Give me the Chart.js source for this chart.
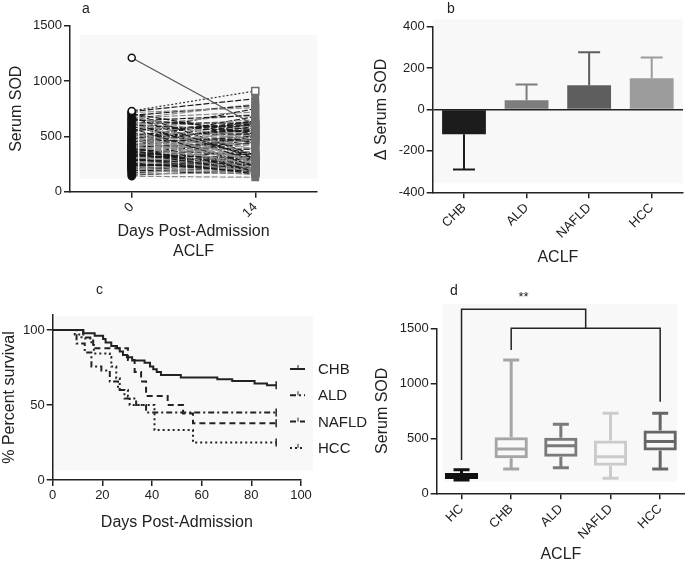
<!DOCTYPE html>
<html>
<head>
<meta charset="utf-8">
<script src="https://cdn.jsdelivr.net/npm/chart.js"></script>
<style>
body { margin: 0; background: #fff; }
#wrap { position: relative; width: 685px; height: 566px; overflow: hidden; font-family: "Liberation Sans", Arial, sans-serif; }
canvas { position: absolute; }
.tag { position: absolute; font-size: 14px; line-height: 16px; color: #222; }
</style>
</head>
<body>
<div id="wrap">
  <canvas id="chartA" width="340" height="280" style="left:0;top:0"></canvas>
  <canvas id="chartB" width="345" height="280" style="left:340px;top:0"></canvas>
  <canvas id="chartC" width="375" height="286" style="left:0;top:280px"></canvas>
  <canvas id="chartD" width="345" height="286" style="left:340px;top:280px"></canvas>
  <div class="tag" style="left:82px;top:0">a</div>
  <div class="tag" style="left:447px;top:0">b</div>
  <div class="tag" style="left:96px;top:281px">c</div>
  <div class="tag" style="left:450px;top:282px">d</div>
</div>
<script>
// panel a - paired serum SOD, admission vs day 14
const dayLabels = ['0', '14'];
const sodDay0 = [1210, 730, 725, 715, 705, 700, 690, 680, 672, 665, 655, 648, 640, 630, 622, 615, 605, 598, 590, 580,
  572, 565, 555, 548, 540, 530, 522, 515, 505, 498, 490, 482, 475, 468, 460, 452, 445, 438, 430, 424,
  418, 410, 404, 398, 392, 386, 380, 374, 368, 362, 356, 350, 345, 340, 334, 328, 322, 316, 310, 305,
  300, 295, 290, 285, 280, 275, 270, 264, 258, 252, 246, 240, 234, 228, 222, 215, 208, 200, 190, 180,
  170, 160, 150, 140,
  710, 660, 620, 585, 560, 535, 512, 495, 478, 462, 448, 434, 421, 408, 396, 384, 372, 360, 348, 337,
  326, 314, 303, 292, 282, 272, 262, 252, 243, 234, 226, 218, 211, 204, 196, 188, 300, 320, 340, 360];
const sodDay14 = [600, 910, 840, 760, 520, 240, 780, 450, 300, 720, 560, 250, 690, 380, 620, 210, 540, 700, 330, 650,
  230, 480, 600, 270, 750, 190, 520, 420, 640, 280, 560, 200, 680, 350, 470, 240, 590, 300, 500, 170,
  620, 260, 440, 560, 200, 520, 330, 610, 230, 470, 280, 540, 190, 400, 250, 600, 310, 220, 500, 270,
  160, 430, 240, 560, 300, 200, 480, 260, 180, 350, 220, 520, 270, 200, 300, 160, 240, 210, 280, 190,
  230, 170, 200, 130,
  330, 790, 280, 520, 610, 230, 450, 180, 560, 300, 640, 210, 380, 530, 250, 470, 200, 580, 290, 230,
  510, 190, 360, 250, 450, 170, 320, 400, 210, 260, 350, 180, 240, 300, 160, 220, 180, 210, 240, 170];

// panel b - change in serum SOD by aetiology
const groupsB = ['CHB', 'ALD', 'NAFLD', 'HCC'];
const deltaSod = [-120, 45, 117, 151];
const deltaSd = [170, 76, 160, 100];
const barColors = ['#1c1c1c', '#7d7d7d', '#5e5e5e', '#9c9c9c'];

// panel c - survival curves (event day, % surviving after event)
const chbDays = [0, 12.3, 16.9, 20.3, 21.3, 23.6, 25.9, 27, 28.3, 29.9, 32, 37, 39.2, 40.5, 41.9, 43.6, 51.6, 66.3, 72.3, 81.3, 86.3, 90];
const chbSurv = [100, 97.8, 96.2, 94, 91.6, 89.3, 87.8, 85.6, 83.3, 81.8, 79.6, 78.2, 75.6, 73.8, 72, 70, 68.4, 67.1, 66, 64.4, 63.1, 63.1];
const aldDays = [0, 9.6, 12.9, 15.6, 19.6, 23, 26.3, 28.9, 33.6, 37.6, 90];
const aldSurv = [100, 91, 85, 75.6, 73, 65.6, 60, 54.4, 50, 45, 45];
const nafldDays = [0, 12.3, 16.3, 30.3, 33, 35.6, 37.6, 46.3, 52.5, 56.5, 90];
const nafldSurv = [100, 95, 87.8, 80, 72, 65.6, 56, 50, 44.4, 37.8, 37.8];
const hccDays = [0, 8.9, 11.6, 15.6, 16.6, 23, 23.6, 25.6, 27, 30.3, 31, 41, 56.5, 90];
const hccSurv = [100, 97, 94.4, 90, 84.4, 82, 75.6, 67.8, 60, 55.6, 50, 33.3, 25, 25];
const kmNames = ['CHB', 'ALD', 'NAFLD', 'HCC'];

// panel d - box plots of serum SOD
const groupsD = ['HC', 'CHB', 'ALD', 'NAFLD', 'HCC'];
const boxMin = [120, 221, 233, 136, 221];
const boxQ1 = [130, 318, 333, 251, 388];
const boxMed = [158, 403, 433, 333, 470];
const boxQ3 = [185, 509, 506, 479, 570];
const boxMax = [215, 1212, 627, 727, 727];
const boxColors = ['#111111', '#a5a5a5', '#7a7a7a', '#cbcbcb', '#666666'];
// significance bracket heights (SOD units)
const bracketTop = 1673;
const bracketMid = 1500;
const bracketLegs = [303, 1303, 833];

Chart.defaults.font.family = '"Liberation Sans", Arial, sans-serif';
Chart.defaults.color = '#222';

const INK = '#222';
const plainNumber = v => String(v);

// light grey panel behind each plot, offsets from the chart area
function panelBg(l, t, r, b) {
    return {
        id: 'panelBg',
        beforeDraw(chart) {
            const a = chart.chartArea;
            const ctx = chart.ctx;
            ctx.save();
            ctx.fillStyle = '#f8f8f8';
            ctx.fillRect(a.left + l, a.top + t, (a.right + r) - (a.left + l), (a.bottom + b) - (a.top + t));
            ctx.restore();
        }
    };
}

function axisX(height, extra) {
    return Object.assign({
        grid: { offset: false, drawOnChartArea: false, tickLength: 6, color: INK, lineWidth: 1.5 },
        border: { color: INK, width: 1.5 },
        ticks: { font: { size: 13 }, color: INK, padding: 2 },
        afterFit: s => { s.height = height; }
    }, extra);
}

function axisY(width, title, padTop, extra) {
    return Object.assign({
        grid: { drawOnChartArea: false, tickLength: 6, color: INK, lineWidth: 1.5 },
        border: { color: INK, width: 1.5 },
        ticks: { font: { size: 13 }, color: INK, padding: 2 },
        title: { display: true, text: title, font: { size: 16 }, color: INK, padding: { top: padTop, bottom: 0 } },
        afterFit: s => { s.width = width; }
    }, extra);
}

const baseOptions = {
    animation: false,
    responsive: false,
    events: []
};

// ---------- panel a ----------
const lowestStart = sodDay0.indexOf(Math.min(...sodDay0));
const pairedDatasets = sodDay0.map((v0, i) => {
    let lineColor = i % 2 ? '#8c8c8c' : '#1a1a1a';
    let dash = [6, 2];
    if (i === 0) { lineColor = '#555'; dash = []; }
    if (i === 1) { lineColor = '#333'; dash = [2, 2]; }
    const openStart = i === 0 || i === 1 || i === lowestStart;
    return {
        data: [v0, sodDay14[i]],
        borderColor: lineColor,
        borderWidth: 1.2,
        borderDash: dash,
        pointStyle: ['circle', 'rect'],
        pointRadius: [3.5, i === 1 ? 5 : 4.5],
        pointBorderWidth: 1.5,
        pointBorderColor: ['#111', '#6e6e6e'],
        pointBackgroundColor: [openStart ? '#fff' : '#111', i === 1 ? '#fff' : '#6e6e6e']
    };
});

new Chart(document.getElementById('chartA'), {
    type: 'line',
    data: { labels: dayLabels, datasets: pairedDatasets },
    options: Object.assign({}, baseOptions, {
        layout: { padding: { top: 25.7, right: 23, left: 0, bottom: 0 } },
        plugins: { legend: { display: false }, tooltip: { enabled: false } },
        scales: {
            x: axisX(88.3, {
                type: 'category',
                offset: true,
                ticks: { font: { size: 13 }, color: INK, padding: 2, minRotation: 45, maxRotation: 45 },
                title: { display: true, text: ['Days Post-Admission', 'ACLF'], font: { size: 16 }, color: INK, padding: { top: 0, bottom: 19.2 } }
            }),
            y: axisY(70, 'Serum SOD', 7.1, {
                min: 0, max: 1500,
                ticks: { stepSize: 500, font: { size: 13 }, color: INK, padding: 2, callback: plainNumber }
            })
        }
    }),
    plugins: [panelBg(10, 9.3, 0, -12.7)]
});

// ---------- panel b ----------
const errorBars = {
    id: 'errorBars',
    afterDatasetsDraw(chart) {
        const ctx = chart.ctx;
        const y = chart.scales.y;
        chart.getDatasetMeta(0).data.forEach((bar, i) => {
            const v = deltaSod[i];
            const end = v < 0 ? v - deltaSd[i] : v + deltaSd[i];
            const y0 = y.getPixelForValue(v);
            const y1 = y.getPixelForValue(end);
            ctx.save();
            ctx.strokeStyle = barColors[i];
            ctx.lineWidth = 2;
            ctx.beginPath();
            ctx.moveTo(bar.x, y0);
            ctx.lineTo(bar.x, y1);
            ctx.moveTo(bar.x - 11, y1);
            ctx.lineTo(bar.x + 11, y1);
            ctx.stroke();
            ctx.restore();
        });
    }
};

new Chart(document.getElementById('chartB'), {
    type: 'bar',
    data: {
        labels: groupsB,
        datasets: [{
            data: deltaSod,
            backgroundColor: barColors,
            borderWidth: 0,
            barPercentage: 0.7,
            categoryPercentage: 1
        }]
    },
    options: Object.assign({}, baseOptions, {
        layout: { padding: { top: 26.7, right: 2, left: 0, bottom: 0 } },
        plugins: { legend: { display: false }, tooltip: { enabled: false } },
        scales: {
            x: axisX(87.7, {
                ticks: { font: { size: 13 }, color: INK, padding: 2, minRotation: 45, maxRotation: 45 },
                title: { display: true, text: 'ACLF', font: { size: 16 }, color: INK, padding: { top: 0, bottom: 12.4 } }
            }),
            y: axisY(92.7, '\u0394 Serum SOD', 32.1, {
                min: -400, max: 400,
                ticks: { stepSize: 200, font: { size: 13 }, color: INK, padding: 2, callback: plainNumber },
                grid: {
                    drawOnChartArea: true, tickLength: 6, lineWidth: 1.5, tickColor: INK,
                    color: c => (c.tick && c.tick.value === 0 ? INK : 'rgba(0,0,0,0)')
                }
            })
        }
    }),
    plugins: [panelBg(0, -7.4, 0, -9), errorBars]
});

// ---------- panel c ----------
const kmSets = [
    { days: chbDays, surv: chbSurv, dash: [], width: 2 },
    { days: aldDays, surv: aldSurv, dash: [6, 3, 2, 3], width: 2 },
    { days: nafldDays, surv: nafldSurv, dash: [6, 4], width: 2 },
    { days: hccDays, surv: hccSurv, dash: [2, 3], width: 2 }
];

const kmLegend = {
    id: 'kmLegend',
    afterDraw(chart) {
        const ctx = chart.ctx;
        const a = chart.chartArea;
        ctx.save();
        ctx.font = '15px "Liberation Sans", Arial, sans-serif';
        ctx.textBaseline = 'middle';
        kmSets.forEach((s, i) => {
            const yy = a.top + 54 + i * 26.3;
            ctx.strokeStyle = INK;
            ctx.lineWidth = 2;
            ctx.setLineDash(s.dash);
            ctx.beginPath();
            ctx.moveTo(a.right - 11, yy);
            ctx.lineTo(a.right + 4, yy);
            ctx.stroke();
            ctx.setLineDash([]);
            ctx.lineWidth = 1;
            ctx.beginPath();
            ctx.moveTo(a.right - 3, yy);
            ctx.lineTo(a.right - 3, yy - 4);
            ctx.stroke();
            ctx.fillStyle = INK;
            ctx.fillText(kmNames[i], a.right + 17, yy + 1);
        });
        ctx.restore();
    }
};

new Chart(document.getElementById('chartC'), {
    type: 'line',
    data: {
        datasets: kmSets.map((s, i) => ({
            label: kmNames[i],
            data: s.days.map((d, j) => ({ x: d, y: s.surv[j] })),
            stepped: true,
            borderColor: INK,
            borderWidth: s.width,
            borderDash: s.dash,
            pointStyle: 'line',
            rotation: 90,
            pointBorderColor: INK,
            pointBorderWidth: 1.5,
            pointRadius: s.days.map((d, j) => (j === s.days.length - 1 ? 4 : 0))
        }))
    },
    options: Object.assign({}, baseOptions, {
        layout: { padding: { top: 35, right: 74, left: 0, bottom: 0 } },
        plugins: { legend: { display: false }, tooltip: { enabled: false } },
        scales: {
            x: axisX(86, {
                type: 'linear', min: 0, max: 100,
                ticks: { stepSize: 20, font: { size: 13 }, color: INK, padding: 2, maxRotation: 0, callback: plainNumber },
                title: { display: true, text: 'Days Post-Admission', font: { size: 16 }, color: INK, padding: { top: 0, bottom: 33.4 } }
            }),
            y: axisY(52.7, '% Percent survival', 0, {
                min: 0, max: 110,
                ticks: { stepSize: 50, includeBounds: false, font: { size: 13 }, color: INK, padding: 2, callback: plainNumber }
            })
        }
    }),
    plugins: [panelBg(0, 1, 12, -9.3), kmLegend]
});

// ---------- panel d ----------
const boxParts = {
    id: 'boxParts',
    afterDatasetsDraw(chart) {
        const ctx = chart.ctx;
        const y = chart.scales.y;
        const x = chart.scales.x;
        const bars = chart.getDatasetMeta(0).data;
        ctx.save();
        ctx.lineCap = 'butt';
        bars.forEach((bar, i) => {
            const cx = bar.x;
            const half = bar.width / 2;
            ctx.strokeStyle = boxColors[i];
            ctx.lineWidth = 3;
            ctx.beginPath();
            // whiskers
            ctx.moveTo(cx, y.getPixelForValue(boxQ3[i]));
            ctx.lineTo(cx, y.getPixelForValue(boxMax[i]));
            ctx.moveTo(cx, y.getPixelForValue(boxQ1[i]));
            ctx.lineTo(cx, y.getPixelForValue(boxMin[i]));
            // caps
            ctx.moveTo(cx - 8, y.getPixelForValue(boxMax[i]));
            ctx.lineTo(cx + 8, y.getPixelForValue(boxMax[i]));
            ctx.moveTo(cx - 8, y.getPixelForValue(boxMin[i]));
            ctx.lineTo(cx + 8, y.getPixelForValue(boxMin[i]));
            // median
            ctx.moveTo(cx - half + 2, y.getPixelForValue(boxMed[i]));
            ctx.lineTo(cx + half - 2, y.getPixelForValue(boxMed[i]));
            ctx.stroke();
        });

        // significance brackets
        const xHc = x.getPixelForValue(0);
        const xChb = x.getPixelForValue(1);
        const xHcc = x.getPixelForValue(4);
        const xMid = (xChb + xHcc) / 2;
        ctx.strokeStyle = INK;
        ctx.lineWidth = 1.5;
        ctx.beginPath();
        ctx.moveTo(xHc, y.getPixelForValue(bracketLegs[0]));
        ctx.lineTo(xHc, y.getPixelForValue(bracketTop));
        ctx.lineTo(xMid, y.getPixelForValue(bracketTop));
        ctx.lineTo(xMid, y.getPixelForValue(bracketMid));
        ctx.moveTo(xChb, y.getPixelForValue(bracketLegs[1]));
        ctx.lineTo(xChb, y.getPixelForValue(bracketMid));
        ctx.lineTo(xHcc, y.getPixelForValue(bracketMid));
        ctx.lineTo(xHcc, y.getPixelForValue(bracketLegs[2]));
        ctx.stroke();
        ctx.fillStyle = INK;
        ctx.font = '13px "Liberation Sans", Arial, sans-serif';
        ctx.textAlign = 'center';
        ctx.textBaseline = 'middle';
        ctx.fillText('**', (xHc + xMid) / 2, y.getPixelForValue(bracketTop) - 12);
        ctx.restore();
    }
};

new Chart(document.getElementById('chartD'), {
    type: 'bar',
    data: {
        labels: groupsD,
        datasets: [{
            data: boxQ1.map((q, i) => [q, boxQ3[i]]),
            backgroundColor: boxColors.map((c, i) => (i === 0 ? c : 'rgba(0,0,0,0)')),
            borderColor: boxColors,
            borderWidth: 3,
            borderSkipped: false,
            barPercentage: 0.67,
            categoryPercentage: 1
        }]
    },
    options: Object.assign({}, baseOptions, {
        layout: { padding: { top: 48.3, right: 0, left: 0, bottom: 0 } },
        plugins: { legend: { display: false }, tooltip: { enabled: false } },
        scales: {
            x: axisX(72.7, {
                ticks: { font: { size: 13 }, color: INK, padding: 2, minRotation: 45, maxRotation: 45 },
                title: { display: true, text: 'ACLF', font: { size: 16 }, color: INK, padding: { top: 0, bottom: 1.4 } }
            }),
            y: axisY(96.7, 'Serum SOD', 33.4, {
                min: 0, max: 1500,
                ticks: { stepSize: 500, font: { size: 13 }, color: INK, padding: 2, callback: plainNumber }
            })
        }
    }),
    plugins: [panelBg(6.3, -24.3, -8, -11.6), boxParts]
});
</script>
</body>
</html>
